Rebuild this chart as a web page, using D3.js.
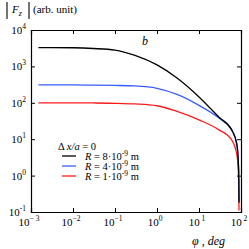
<!DOCTYPE html>
<html>
<head>
<meta charset="utf-8">
<script src="https://cdn.jsdelivr.net/npm/d3@7"></script>
<style>
  body { margin: 0; background: #fff; }
  svg { display: block; font-family: "Liberation Serif", "DejaVu Serif", serif; }
</style>
</head>
<body>
<div id="chart"></div>
<script>
// angle phi, deg
var phi = [0.0015, 0.003, 0.01, 0.03, 0.1, 0.3, 1, 3, 10, 30, 60, 80, 88, 89.6]
// |Fz| for each radius, arb. unit
var fR8 = [3300, 3300, 3250, 3100, 2800, 2000, 1100, 480, 145, 40, 18, 7, 1.4, 0.18]
var fR4 = [310, 310, 310, 305, 300, 290, 250, 170, 85, 38, 18, 7, 1.4, 0.2]
var fR1 = [100, 100, 100, 99, 97, 93, 83, 58, 34, 18, 9.5, 3.7, 0.76, 0.11]

var xTicks = [1e-3, 1e-2, 1e-1, 1, 10, 100]
var xTickLabels = [['10', '\u2212 3'], ['10', '\u22122'], ['10', '\u22121'], ['10', '0'], ['10', ' 1'], ['10', ' 2']]
var yTicks = [1e-1, 1, 10, 100, 1000, 10000]
var yTickLabels = [['10', '-1'], ['10', '0'], ['10', '1'], ['10', '2'], ['10', '3'], ['10', '4']]

var series = [
  { values: fR8, color: '#000', label: '8' },
  { values: fR4, color: '#3a5cff', label: '4' },
  { values: fR1, color: '#ff1a1a', label: '1' }
]

var W = 249, H = 249
var mLeft = 31, mRight = 241, mTop = 30, mBottom = 212

var svg = d3.select('#chart')
    .append('svg')
    .attr('width', W)
    .attr('height', H)

var x = d3.scaleLog().domain([1e-3, 1e2]).range([mLeft, mRight])
var y = d3.scaleLog().domain([1e-1, 1e4]).range([mBottom, mTop])

// frame with inward ticks on all sides
svg.append('g')
    .attr('transform', `translate(0,${mBottom})`)
    .call(d3.axisBottom(x).tickValues(xTicks).tickSize(-4).tickFormat(''))
svg.append('g')
    .attr('transform', `translate(0,${mTop})`)
    .call(d3.axisTop(x).tickValues(xTicks).tickSize(-4).tickFormat(''))
svg.append('g')
    .attr('transform', `translate(${mLeft},0)`)
    .call(d3.axisLeft(y).tickValues(yTicks).tickSize(-4).tickFormat(''))
svg.append('g')
    .attr('transform', `translate(${mRight},0)`)
    .call(d3.axisRight(y).tickValues(yTicks).tickSize(-4).tickFormat(''))

svg.selectAll('.domain').attr('stroke', '#000').attr('stroke-width', 1.2)
svg.selectAll('.tick line').attr('stroke', '#000')

// tick labels with superscripts
xTicks.forEach(function(v, i) {
    var t = svg.append('text')
        .attr('x', x(v) - 2)
        .attr('y', mBottom + 14)
        .attr('text-anchor', 'middle')
        .attr('font-size', 11)
    t.append('tspan').text(xTickLabels[i][0])
    t.append('tspan').attr('dy', -5).attr('font-size', 7.5).text(xTickLabels[i][1])
})
yTicks.forEach(function(v, i) {
    var t = svg.append('text')
        .attr('x', 26)
        .attr('y', y(v) + 4)
        .attr('text-anchor', 'end')
        .attr('font-size', 11)
    t.append('tspan').text(yTickLabels[i][0])
    t.append('tspan').attr('dy', -5).attr('font-size', 7.5).text(yTickLabels[i][1])
})

// curves
var line = d3.line()
    .x(function(d) { return x(d[0]) })
    .y(function(d) { return y(d[1]) })
    .curve(d3.curveMonotoneX)

series.slice().reverse().forEach(function(s) {
    svg.append('path')
        .datum(phi.map(function(p, i) { return [p, s.values[i]] }))
        .attr('d', line)
        .attr('fill', 'none')
        .attr('stroke', s.color)
        .attr('stroke-width', 1.3)
})

// y label  |Fz| (arb. unit)
svg.append('line').attr('x1', 7).attr('x2', 7).attr('y1', 2).attr('y2', 19).attr('stroke', '#000').attr('stroke-width', 1.1)
svg.append('line').attr('x1', 29).attr('x2', 29).attr('y1', 2).attr('y2', 19).attr('stroke', '#000').attr('stroke-width', 1.1)
var fz = svg.append('text').attr('x', 12).attr('y', 13).attr('font-size', 11).attr('font-style', 'italic')
fz.append('tspan').text('F')
fz.append('tspan').attr('dy', 3).attr('font-size', 8).text('z')
svg.append('text').attr('x', 33).attr('y', 13).attr('font-size', 11).text('(arb. unit)')

// panel letter
svg.append('text').attr('x', 142).attr('y', 45).attr('font-size', 12).attr('font-style', 'italic').text('b')

// x label
svg.append('text').attr('x', 192).attr('y', 245).attr('font-size', 12).attr('font-style', 'italic').text('\u03c6 , deg')

// legend
var lg = svg.append('text').attr('x', 58).attr('y', 150).attr('font-size', 10.5)
lg.append('tspan').text('\u0394 ')
lg.append('tspan').attr('font-style', 'italic').text('x/a')
lg.append('tspan').text(' = 0')

series.forEach(function(s, i) {
    var ly = 156 + i * 10
    svg.append('line')
        .attr('x1', 62).attr('x2', 76)
        .attr('y1', ly).attr('y2', ly)
        .attr('stroke', s.color).attr('stroke-width', 1.3)
    var t = svg.append('text').attr('x', 85).attr('y', ly + 3.5).attr('font-size', 10.5)
    t.append('tspan').attr('font-style', 'italic').text('R')
    t.append('tspan').text(' = ' + s.label + '\u00b710')
    t.append('tspan').attr('dy', -4).attr('font-size', 7.5).text('-9')
    t.append('tspan').attr('dy', 4).text(' m')
})
</script>
</body>
</html>
